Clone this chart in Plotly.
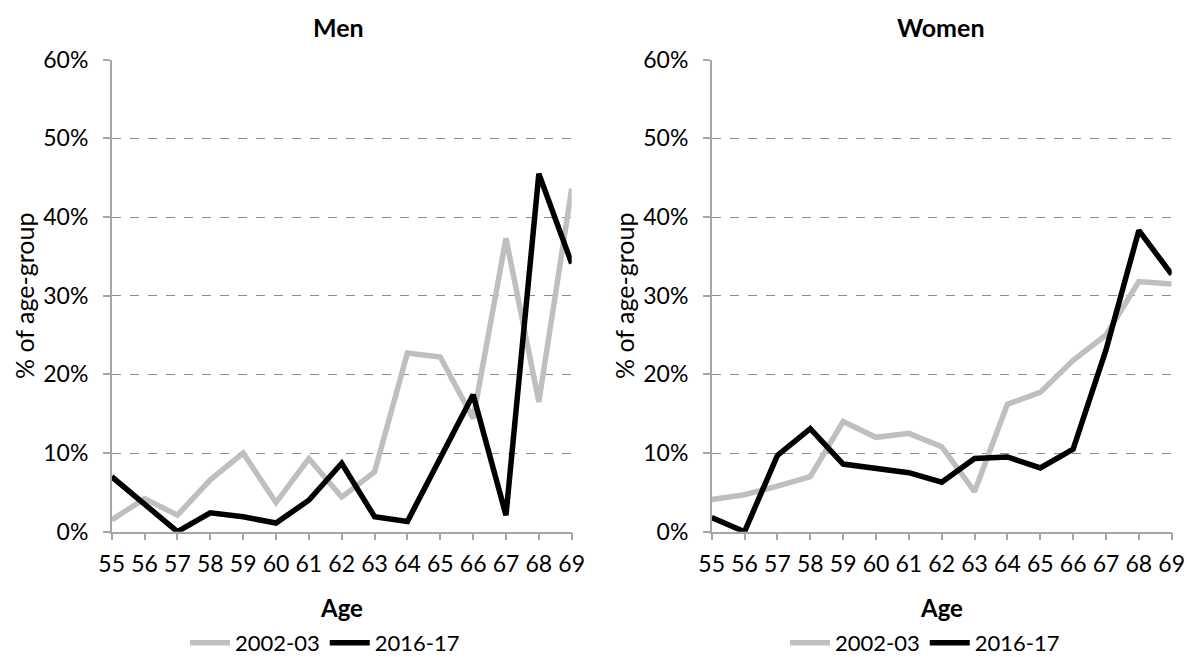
import plotly.graph_objects as go

ages = list(range(55, 70))
age_labels = [str(a) for a in ages]
series_names = ["2002-03", "2016-17"]

men_2002 = [1.5, 4.2, 2.1, 6.6, 10.0, 3.7, 9.3, 4.4, 7.6, 22.7, 22.2, 14.4, 37.3, 16.5, 43.6]
men_2016 = [7.0, 3.4, 0.0, 2.4, 1.9, 1.1, 4.0, 8.7, 1.9, 1.3, 9.4, 17.4, 2.1, 45.5, 34.1]
women_2002 = [4.1, 4.7, 5.8, 7.0, 14.0, 12.0, 12.5, 10.8, 5.1, 16.2, 17.7, 21.8, 25.0, 31.8, 31.5]
women_2016 = [1.8, 0.0, 9.7, 13.1, 8.6, 8.1, 7.5, 6.3, 9.3, 9.5, 8.1, 10.5, 23.1, 38.3, 32.7]

y_ticks = [0, 10, 20, 30, 40, 50, 60]
y_tick_labels = [f"{v}%" for v in y_ticks]

W, H = 1187, 657
FONT = "Lato"
colors = ["#bfbfbf", "#000000"]

fig = go.Figure()

def px_x(p):
    return p / W

def px_y(p):
    return 1 - p / H

men_dom = [px_x(111.7), px_x(571.7)]
wom_dom = [px_x(711.7), px_x(1171.7)]
y_dom = [px_y(531.7), px_y(59.7)]

panels = [
    ("Men", men_2002, men_2016, "x", "y", "legend"),
    ("Women", women_2002, women_2016, "x2", "y2", "legend2"),
]

for title, s1, s2, xa, ya, lg in panels:
    for name, vals, col in zip(series_names, [s1, s2], colors):
        fig.add_trace(go.Scatter(
            x=ages, y=vals, mode="lines", name=name,
            line=dict(color=col, width=5.5),
            xaxis=xa, yaxis=ya, legend=lg,
            hoverinfo="skip",
        ))

TICK_SIZE = 23

axis_common_x = dict(
    range=[55, 69], tickmode="array", tickvals=ages, ticktext=age_labels,
    showline=True, linecolor="#a6a6a6", linewidth=1.5,
    ticks="outside", ticklen=7, tickcolor="#a6a6a6", tickwidth=1.5,
    showgrid=False, zeroline=False, tickangle=0, automargin=False,
    ticklabelstandoff=4,
    tickfont=dict(family=FONT, size=TICK_SIZE, color="#000"),
    fixedrange=True,
)
axis_common_y = dict(
    range=[0, 60], tickmode="array", tickvals=y_ticks, ticktext=y_tick_labels,
    showline=True, linecolor="#a6a6a6", linewidth=1.5,
    ticks="outside", ticklen=7, tickcolor="#a6a6a6", tickwidth=1.5,
    showgrid=True, gridcolor="#8c8c8c", griddash="dash", gridwidth=1,
    zeroline=False, domain=y_dom, automargin=False,
    ticklabelstandoff=10,
    tickfont=dict(family=FONT, size=TICK_SIZE, color="#000"),
    fixedrange=True,
)

legend_common = dict(
    orientation="h", xanchor="center", yanchor="middle",
    xref="container", yref="container",
    font=dict(family=FONT, size=22), bgcolor="rgba(0,0,0,0)",
    itemwidth=40, tracegroupgap=0,
)

fig.update_layout(
    width=W, height=H,
    margin=dict(l=0, r=0, t=0, b=0, autoexpand=False),
    paper_bgcolor="white", plot_bgcolor="white",
    font=dict(family=FONT, size=TICK_SIZE, color="#000"),
    xaxis=dict(axis_common_x, domain=men_dom, anchor="y"),
    yaxis=dict(axis_common_y, anchor="x"),
    xaxis2=dict(axis_common_x, domain=wom_dom, anchor="y2"),
    yaxis2=dict(axis_common_y, anchor="x2"),
    legend=dict(legend_common, x=px_x(325), y=px_y(643)),
    legend2=dict(legend_common, x=px_x(925), y=px_y(643)),
    showlegend=True,
)

annotations = [
    dict(text="<b>Men</b>", x=px_x(338), y=px_y(27), size=25),
    dict(text="<b>Women</b>", x=px_x(941), y=px_y(27), size=25),
    dict(text="<b>Age</b>", x=px_x(341.7), y=px_y(607), size=24),
    dict(text="<b>Age</b>", x=px_x(941.7), y=px_y(607), size=24),
    dict(text="% of age-group", x=px_x(24), y=px_y(296), textangle=-90, size=25),
    dict(text="% of age-group", x=px_x(624), y=px_y(296), textangle=-90, size=25),
]
for a in annotations:
    size = a.pop("size")
    fig.add_annotation(xref="paper", yref="paper", showarrow=False,
                       xanchor="center", yanchor="middle",
                       font=dict(family=FONT, size=size, color="#000"), **a)

post = (
    "document.documentElement.style.margin='0';"
    "document.documentElement.style.overflow='hidden';"
    "document.body.style.margin='0';"
    "document.body.style.overflow='hidden';"
    "var gd=document.getElementsByClassName('plotly-graph-div')[0];"
    "gd.style.position='absolute';gd.style.top='0px';gd.style.left='0px';"
)

fig.write_html("out.html", post_script=post, config={"displayModeBar": False})
